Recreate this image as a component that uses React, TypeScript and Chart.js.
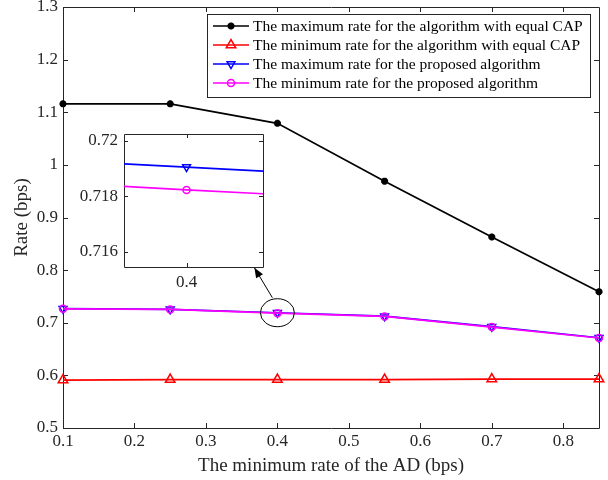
import React, { useEffect, useRef } from "react";
import { Chart, registerables } from "chart.js";
import { drawPoint } from "chart.js/helpers";

Chart.register(...registerables);

// ---------- data ----------
const xValues = [0.1, 0.25, 0.4, 0.55, 0.7, 0.85];
const maxEqualCap = [1.116, 1.116, 1.079, 0.969, 0.863, 0.759];
const minEqualCap = [0.591, 0.592, 0.592, 0.592, 0.593, 0.593];
const maxProposed = [0.7268, 0.7255, 0.71905, 0.7125, 0.6925, 0.6715];
const minProposed = [0.7265, 0.7254, 0.71823, 0.712, 0.6918, 0.671];

const seriesLabels = [
  "The maximum rate for the algorithm with equal CAP",
  "The minimum rate for the algorithm with equal CAP",
  "The maximum rate for the proposed algorithm",
  "The minimum rate for the proposed algorithm",
];

const xTicks = [0.1, 0.2, 0.3, 0.4, 0.5, 0.6, 0.7, 0.8];
const yTicks = [0.5, 0.6, 0.7, 0.8, 0.9, 1, 1.1, 1.2, 1.3];
const insetXTicks = [0.4];
const insetYTicks = [0.716, 0.718, 0.72];

const xTitle = "The minimum rate of the AD (bps)";
const yTitle = "Rate (bps)";

// ---------- style ----------
const FONT = "'Liberation Serif', 'Times New Roman', serif";
const AXIS = "#262626";
const W = 608;
const H = 480;

const fmt = (v: number) => String(Number(Number(v).toFixed(4)));

const styles = [
  { color: "#000000", pointStyle: "star", radius: 3.5, rotation: 0, bw: 2.4, fill: "#000000" },
  { color: "#ff0000", pointStyle: "triangle", radius: 5.5, rotation: 0, bw: 1.5, fill: "rgba(0,0,0,0)" },
  { color: "#0000ff", pointStyle: "triangle", radius: 4.5, rotation: 180, bw: 1.5, fill: "rgba(0,0,0,0)" },
  { color: "#ff00ff", pointStyle: "circle", radius: 3.5, rotation: 0, bw: 1.5, fill: "rgba(0,0,0,0)" },
];

const seriesData = [maxEqualCap, minEqualCap, maxProposed, minProposed];
const drawOrder = [0, 1, 3, 2];

function makeDatasets(idx: number[]) {
  return idx.map((i) => ({
    label: seriesLabels[i],
    data: xValues.map((x, k) => ({ x, y: seriesData[i][k] })),
    borderColor: styles[i].color,
    backgroundColor: styles[i].color,
    borderWidth: 1.7,
    pointStyle: styles[i].pointStyle as any,
    pointRadius: styles[i].radius,
    pointRotation: styles[i].rotation,
    pointBorderWidth: styles[i].bw,
    pointBorderColor: styles[i].color,
    pointBackgroundColor: styles[i].fill,
    tension: 0,
    order: drawOrder[i],
  }));
}

function fixAxis(size: number, horizontal: boolean) {
  return (scale: any) => {
    if (horizontal) scale.height = size;
    else scale.width = size;
    scale.paddingTop = 0;
    scale.paddingBottom = 0;
    scale.paddingLeft = 0;
    scale.paddingRight = 0;
  };
}

function setTicks(values: number[]) {
  return (scale: any) => {
    scale.ticks = values.map((v) => ({ value: v }));
  };
}

function boxPlugin(id: string, xt: number[], yt: number[], len: number, whiteBg: boolean) {
  return {
    id,
    beforeDatasetsDraw(chart: any) {
      const { ctx, chartArea: a, scales } = chart;
      ctx.save();
      if (whiteBg) {
        ctx.fillStyle = "#ffffff";
        ctx.fillRect(a.left, a.top, a.right - a.left, a.bottom - a.top);
      }
      ctx.strokeStyle = AXIS;
      ctx.lineWidth = 1;
      ctx.beginPath();
      ctx.rect(Math.round(a.left) + 0.5, Math.round(a.top) + 0.5, Math.round(a.right - a.left), Math.round(a.bottom - a.top));
      for (const v of xt) {
        const px = Math.round(scales.x.getPixelForValue(v)) + 0.5;
        ctx.moveTo(px, a.bottom);
        ctx.lineTo(px, a.bottom - len);
        ctx.moveTo(px, a.top);
        ctx.lineTo(px, a.top + len);
      }
      for (const v of yt) {
        const py = Math.round(scales.y.getPixelForValue(v)) + 0.5;
        ctx.moveTo(a.left, py);
        ctx.lineTo(a.left + len, py);
        ctx.moveTo(a.right, py);
        ctx.lineTo(a.right - len, py);
      }
      ctx.stroke();
      ctx.restore();
    },
  };
}

const overlayPlugin = {
  id: "overlay",
  afterDatasetsDraw(chart: any) {
    const { ctx, scales } = chart;
    ctx.save();
    // legend
    const lx = 207, ly = 14, lw = 383, lh = 83;
    ctx.fillStyle = "#ffffff";
    ctx.fillRect(lx, ly, lw, lh);
    ctx.strokeStyle = AXIS;
    ctx.lineWidth = 1;
    ctx.strokeRect(lx + 0.5, ly + 0.5, lw, lh);
    ctx.font = `15.5px ${FONT}`;
    ctx.textBaseline = "middle";
    ctx.textAlign = "left";
    for (let i = 0; i < 4; i++) {
      const ry = 26 + i * 19;
      const s = styles[i];
      ctx.strokeStyle = s.color;
      ctx.lineWidth = 1.7;
      ctx.beginPath();
      ctx.moveTo(213, ry);
      ctx.lineTo(249, ry);
      ctx.stroke();
      ctx.fillStyle = s.fill;
      ctx.lineWidth = s.bw;
      drawPoint(ctx, { pointStyle: s.pointStyle as any, rotation: s.rotation, radius: s.radius, borderWidth: s.bw }, 231, ry);
      ctx.fillStyle = "#000000";
      ctx.fillText(seriesLabels[i], 253, ry + 1);
    }
    // zoom annotation
    const cx = scales.x.getPixelForValue(xValues[2]);
    const cy = scales.y.getPixelForValue(maxProposed[2]);
    ctx.strokeStyle = "#000000";
    ctx.lineWidth = 1;
    ctx.beginPath();
    ctx.ellipse(cx, cy, 17, 14, 0, 0, Math.PI * 2);
    ctx.stroke();
    const sx = cx - 5, sy = cy - 15;
    const tx = cx - 23, ty = cy - 45;
    ctx.beginPath();
    ctx.moveTo(sx, sy);
    ctx.lineTo(tx, ty);
    ctx.stroke();
    const ang = Math.atan2(ty - sy, tx - sx);
    const hl = 10, hw = 4;
    ctx.fillStyle = "#000000";
    ctx.beginPath();
    ctx.moveTo(tx, ty);
    ctx.lineTo(tx - hl * Math.cos(ang) + hw * Math.sin(ang), ty - hl * Math.sin(ang) - hw * Math.cos(ang));
    ctx.lineTo(tx - hl * Math.cos(ang) - hw * Math.sin(ang), ty - hl * Math.sin(ang) + hw * Math.cos(ang));
    ctx.closePath();
    ctx.fill();
    ctx.restore();
  },
};

export default function App() {
  const mainRef = useRef<HTMLCanvasElement>(null);
  const insetRef = useRef<HTMLCanvasElement>(null);

  useEffect(() => {
    const tickFont = { family: FONT, size: 17 };
    const titleFont = { family: FONT, size: 19 };
    const main = new Chart(mainRef.current as HTMLCanvasElement, {
      type: "line",
      data: { datasets: makeDatasets([0, 1, 2, 3]) as any },
      options: {
        animation: false,
        responsive: false,
        devicePixelRatio: 1,
        layout: { padding: { left: 0, top: 6, right: 9, bottom: 0 } },
        datasets: { line: { clip: false } as any },
        plugins: { legend: { display: false }, tooltip: { enabled: false } },
        scales: {
          x: {
            type: "linear",
            min: 0.1,
            max: 0.85,
            afterBuildTicks: setTicks(xTicks),
            afterFit: fixAxis(52, true),
            grid: { display: false, drawTicks: false },
            border: { display: false },
            ticks: { font: tickFont, color: AXIS, padding: 3, callback: (v: any) => fmt(v), maxRotation: 0, autoSkip: false },
            title: { display: true, text: xTitle, font: titleFont, color: AXIS, padding: { top: 0, bottom: 3 } },
          },
          y: {
            type: "linear",
            min: 0.5,
            max: 1.3,
            afterBuildTicks: setTicks(yTicks),
            afterFit: fixAxis(63, false),
            grid: { display: false, drawTicks: false },
            border: { display: false },
            ticks: { font: tickFont, color: AXIS, padding: 5, callback: (v: any) => fmt(v), autoSkip: false },
            title: { display: true, text: yTitle, font: titleFont, color: AXIS, padding: { top: 11, bottom: 0 } },
          },
        },
      },
      plugins: [boxPlugin("mainBox", xTicks, yTicks, 5, false), overlayPlugin],
    } as any);

    const inset = new Chart(insetRef.current as HTMLCanvasElement, {
      type: "line",
      data: { datasets: makeDatasets([2, 3]).map((d) => ({ ...d, clip: 0 })) as any },
      options: {
        animation: false,
        responsive: false,
        devicePixelRatio: 1,
        layout: { padding: { left: 79, top: 134, right: 345, bottom: 188 } },
        plugins: { legend: { display: false }, tooltip: { enabled: false } },
        scales: {
          x: {
            type: "linear",
            min: 0.3973,
            max: 0.4033,
            afterBuildTicks: setTicks(insetXTicks),
            afterFit: fixAxis(25, true),
            grid: { display: false, drawTicks: false },
            border: { display: false },
            ticks: { font: tickFont, color: AXIS, padding: 5, callback: (v: any) => fmt(v), maxRotation: 0, autoSkip: false },
          },
          y: {
            type: "linear",
            min: 0.71546,
            max: 0.72024,
            afterBuildTicks: setTicks(insetYTicks),
            afterFit: fixAxis(45, false),
            grid: { display: false, drawTicks: false },
            border: { display: false },
            ticks: { font: tickFont, color: AXIS, padding: 6, callback: (v: any) => fmt(v), autoSkip: false },
          },
        },
      },
      plugins: [boxPlugin("insetBox", insetXTicks, insetYTicks, 4, true)],
    } as any);

    return () => {
      main.destroy();
      inset.destroy();
    };
  }, []);

  return (
    <div style={{ position: "fixed", left: 0, top: 0, width: W, height: H, background: "#ffffff" }}>
      <canvas ref={mainRef} width={W} height={H} style={{ position: "absolute", left: 0, top: 0, width: W, height: H }} />
      <canvas ref={insetRef} width={W} height={H} style={{ position: "absolute", left: 0, top: 0, width: W, height: H }} />
    </div>
  );
}
